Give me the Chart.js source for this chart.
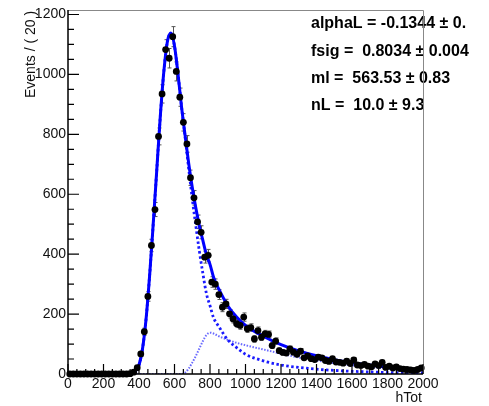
<!DOCTYPE html>
<html>
<head>
<meta charset="utf-8">
<script src="https://cdn.jsdelivr.net/npm/chart.js@4.4.0/dist/chart.umd.min.js"></script>
<style>
  html, body { margin: 0; padding: 0; background: #fff; }
  canvas { display: block; }
</style>
</head>
<body>
<canvas id="fitChart" width="489" height="406"></canvas>
<script>
// histogram: bin centres (width 20) and counts
const binCenters = [
  10, 30, 50, 70, 90, 110, 130, 150, 170, 190,
  210, 230, 250, 270, 290, 310, 330, 350, 370, 390,
  410, 430, 450, 470, 490, 510, 530, 550, 570, 590,
  610, 630, 650, 670, 690, 710, 730, 750, 770, 790,
  810, 830, 850, 870, 890, 910, 930, 950, 970, 990,
  1010, 1030, 1050, 1070, 1090, 1110, 1130, 1150, 1170, 1190,
  1210, 1230, 1250, 1270, 1290, 1310, 1330, 1350, 1370, 1390,
  1410, 1430, 1450, 1470, 1490, 1510, 1530, 1550, 1570, 1590,
  1610, 1630, 1650, 1670, 1690, 1710, 1730, 1750, 1770, 1790,
  1810, 1830, 1850, 1870, 1890, 1910, 1930, 1950, 1970, 1990
];
const counts = [
  0, 0, 0, 0, 0, 0, 0, 0, 0, 0,
  0, 0, 0, 0, 0, 0, 0, 1, 6, 21,
  67, 141, 259, 429, 549, 793, 935, 1083, 1054, 1126,
  1010, 924, 840, 768, 655, 588, 508, 473, 390, 396,
  307, 300, 265, 223, 234, 201, 184, 168, 162, 190,
  151, 155, 117, 145, 123, 134, 132, 95, 110, 78,
  72, 70, 84, 73, 66, 76, 54, 60, 51, 48,
  56, 54, 45, 42, 51, 40, 39, 36, 43, 35,
  47, 30, 28, 32, 26, 24, 34, 28, 39, 22,
  26, 20, 24, 18, 16, 15, 14, 12, 15, 20
];

// fit curves
const curveX = [
  0, 300, 340, 360, 380, 400, 420, 440, 460, 480,
  500, 520, 540, 560, 580, 600, 620, 640, 660, 680,
  700, 720, 740, 760, 780, 800, 820, 850, 900, 950,
  1000, 1100, 1200, 1300, 1400, 1500, 1600, 1700, 1800, 1900, 2000
];
const fitTotal = [
  0, 0, 0.5, 2, 9, 30, 85, 185, 330, 500,
  680, 860, 1010, 1110, 1138, 1095, 1000, 890, 795, 703,
  623, 555, 495, 445, 398, 366, 323, 283, 228, 190,
  162, 126, 98, 77, 61, 48, 38, 30, 23, 18, 14
];
const fitSignal = [
  0, 0, 0.5, 2, 9, 30, 85, 185, 330, 500,
  680, 860, 1010, 1110, 1138, 1095, 1000, 890, 790, 685,
  585, 495, 410, 335, 268, 228, 188, 158, 114, 88,
  66, 44, 30, 22, 16, 12, 9, 7, 5, 4, 3
];
const fitBkg = [
  0, 0, 0, 0, 0, 0, 0, 0, 0, 0,
  0, 0, 0, 0, 0, 0, 0, 0, 5, 18,
  38, 60, 85, 110, 130, 138, 135, 126, 114, 104,
  96, 82, 68, 55, 45, 36, 29, 23, 18, 14, 11
];

const xTicks = [0, 200, 400, 600, 800, 1000, 1200, 1400, 1600, 1800, 2000];
const yTicks = [0, 200, 400, 600, 800, 1000, 1200];
const minorStep = 50;

const paramLines = [
  'alphaL = -0.1344 \u00b1 0.',
  'fsig =  0.8034 \u00b1 0.004',
  'ml =  563.53 \u00b1 0.83',
  'nL =  10.0 \u00b1 9.3'
];

const yTitle = 'Events / ( 20 )';
const xTitle = 'hTot';

function toPoints(xs, ys) {
  return xs.map((x, i) => ({ x: x, y: ys[i] }));
}

const errorBars = {
  id: 'errorBars',
  beforeDatasetsDraw(chart) {
    const ctx = chart.ctx;
    const xs = chart.scales.x, ys = chart.scales.y;
    ctx.save();
    ctx.strokeStyle = '#555';
    ctx.lineWidth = 1;
    binCenters.forEach((x, i) => {
      const n = counts[i];
      if (n <= 0) return;
      const err = Math.sqrt(n);
      const px = Math.round(xs.getPixelForValue(x)) + 0.5;
      const top = ys.getPixelForValue(n + err);
      const bot = ys.getPixelForValue(n - err);
      ctx.beginPath();
      ctx.moveTo(px, top); ctx.lineTo(px, bot);
      ctx.moveTo(px - 2, top); ctx.lineTo(px + 2, top);
      ctx.moveTo(px - 2, bot); ctx.lineTo(px + 2, bot);
      ctx.stroke();
    });
    ctx.restore();
  }
};

const rootFrame = {
  id: 'rootFrame',
  afterDraw(chart) {
    const ctx = chart.ctx;
    const area = chart.chartArea;
    const xs = chart.scales.x, ys = chart.scales.y;

    // fit parameters, cut off at the pad edge
    ctx.save();
    ctx.beginPath();
    ctx.rect(0, 0, 470, 406);
    ctx.clip();
    ctx.fillStyle = '#000';
    ctx.font = 'bold 16px "Liberation Sans", Arial, sans-serif';
    ctx.textAlign = 'left';
    ctx.textBaseline = 'middle';
    paramLines.forEach((t, i) => ctx.fillText(t, 311, 24 + i * 27.3));
    ctx.restore();

    ctx.save();
    // frame top/right
    ctx.strokeStyle = '#888';
    ctx.lineWidth = 1;
    ctx.beginPath();
    ctx.moveTo(area.left, area.top + 0.5);
    ctx.lineTo(area.right + 0.5, area.top + 0.5);
    ctx.lineTo(area.right + 0.5, area.bottom);
    ctx.stroke();

    // axes
    ctx.strokeStyle = '#000';
    ctx.lineWidth = 1.5;
    ctx.beginPath();
    ctx.moveTo(area.left, area.top);
    ctx.lineTo(area.left, area.bottom);
    ctx.lineTo(area.right, area.bottom);
    ctx.stroke();

    // ticks pointing inwards
    ctx.lineWidth = 1.2;
    ctx.beginPath();
    for (let v = xs.min; v <= xs.max; v += minorStep) {
      const px = xs.getPixelForValue(v);
      const len = xTicks.includes(v) ? 10 : 5;
      ctx.moveTo(px, area.bottom);
      ctx.lineTo(px, area.bottom - len);
    }
    for (let v = 0; v <= ys.max; v += minorStep) {
      const py = ys.getPixelForValue(v);
      const len = yTicks.includes(v) ? 11 : 6;
      ctx.moveTo(area.left, py);
      ctx.lineTo(area.left + len, py);
    }
    ctx.stroke();

    // tick labels
    ctx.font = '14px "Liberation Sans", Arial, sans-serif';
    ctx.fillStyle = '#111';
    ctx.textAlign = 'center';
    ctx.textBaseline = 'middle';
    xTicks.forEach(v => ctx.fillText(String(v), xs.getPixelForValue(v), 384));
    ctx.textAlign = 'right';
    yTicks.forEach(v => ctx.fillText(String(v), area.left - 2, ys.getPixelForValue(v)));

    // axis titles
    ctx.textAlign = 'right';
    ctx.fillText(xTitle, area.right - 1, 398);
    ctx.beginPath();
    ctx.rect(0, 8, 60, 398);
    ctx.clip();
    ctx.translate(31, 0);
    ctx.rotate(-Math.PI / 2);
    ctx.textAlign = 'left';
    ctx.fillText(yTitle, -98, 0);
    ctx.restore();
  }
};

new Chart(document.getElementById('fitChart'), {
  type: 'scatter',
  data: {
    datasets: [
      {
        label: 'data',
        data: toPoints(binCenters, counts),
        pointRadius: 3.4,
        pointBackgroundColor: '#000',
        pointBorderWidth: 0,
        showLine: false,
        clip: false,
        order: 0
      },
      {
        label: 'total',
        data: toPoints(curveX, fitTotal),
        showLine: true,
        borderColor: '#0000ff',
        borderWidth: 3,
        pointRadius: 0,
        cubicInterpolationMode: 'monotone',
        order: 1
      },
      {
        label: 'signal',
        data: toPoints(curveX, fitSignal),
        showLine: true,
        borderColor: '#1a1aff',
        borderWidth: 2.8,
        borderDash: [2.5, 2.5],
        pointRadius: 0,
        cubicInterpolationMode: 'monotone',
        order: 2
      },
      {
        label: 'background',
        data: toPoints(curveX, fitBkg),
        showLine: true,
        borderColor: '#6a6aff',
        borderWidth: 2,
        borderDash: [1.5, 1.5],
        pointRadius: 0,
        cubicInterpolationMode: 'monotone',
        order: 3
      }
    ]
  },
  options: {
    responsive: false,
    devicePixelRatio: 1,
    animation: false,
    layout: { padding: { left: 68, right: 66, top: 10, bottom: 32 } },
    scales: {
      x: { type: 'linear', min: 0, max: 2000, display: false },
      y: { type: 'linear', min: 0, max: 1215, display: false }
    },
    plugins: {
      legend: { display: false },
      tooltip: { enabled: false }
    }
  },
  plugins: [errorBars, rootFrame]
});
</script>
</body>
</html>
